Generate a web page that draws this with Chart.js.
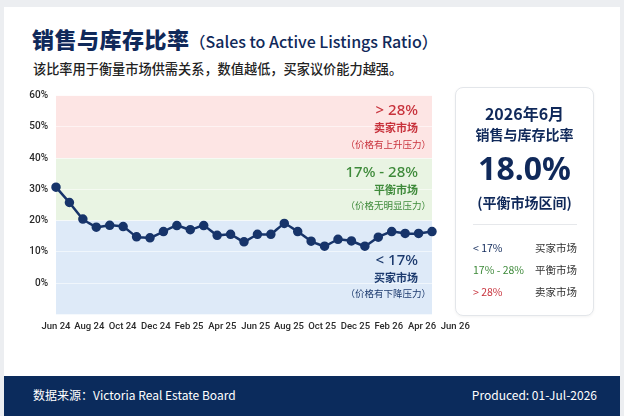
<!DOCTYPE html>
<html>
<head>
<meta charset="utf-8">
<script src="https://cdn.jsdelivr.net/npm/chart.js@4.4.1/dist/chart.umd.min.js"></script>
<style>
  html, body { margin: 0; padding: 0; }
  body {
    width: 624px; height: 416px; overflow: hidden; position: relative;
    background: #eceef1;
    font-family: "Noto Sans", "Noto Sans CJK SC", sans-serif;
  }
  .card { position: absolute; left: 4px; top: 7px; width: 616px; height: 409px; background: #fff; }
  .title { position: absolute; left: 32px; top: 22px; color: #10295a; white-space: nowrap; }
  .title .zh { font-family: "Noto Sans CJK SC", sans-serif; font-size: 22px; font-weight: 900; letter-spacing: 0.5px; }
  .title .en { font-family: "Noto Sans CJK SC", sans-serif; font-size: 16px; font-weight: 500; }
  .sub { position: absolute; left: 33px; top: 59px; font-family: "Noto Sans CJK SC", sans-serif;
         font-size: 13.2px; font-weight: 500; color: #222; white-space: nowrap; }
  #wrap { position: absolute; left: 0; top: 80px; width: 470px; height: 270px; }
  .panel { position: absolute; left: 455px; top: 87px; width: 137px; height: 227px; background: #fff;
           border: 1px solid #e3e6ea; border-radius: 8px; box-shadow: 0 1px 3px rgba(0,0,0,0.05);
           font-family: "Noto Sans CJK SC", sans-serif; color: #10295a; }
  .panel .c { position: absolute; left: 0; width: 100%; text-align: center; white-space: nowrap; }
  .panel .row { position: absolute; left: 17px; width: 104px; font-size: 10.5px; white-space: nowrap; }
  .panel .row span:last-child { position: absolute; right: 0; color: #333; }
  .footer { position: absolute; left: 4px; top: 376px; width: 616px; height: 40px; background: #0b2b5c; color: #fff;
            font-family: "Noto Sans CJK SC", sans-serif; font-size: 12px; }
  .footer div { position: absolute; top: 10px; white-space: nowrap; }
</style>
</head>
<body>
<div class="card"></div>
<div class="title"><span class="zh">销售与库存比率</span><span class="en">（Sales to Active Listings Ratio）</span></div>
<div class="sub">该比率用于衡量市场供需关系，数值越低，买家议价能力越强。</div>
<div id="wrap"><canvas id="ratioChart"></canvas></div>
<div class="panel">
  <div class="c" style="top:13px;font-size:16px;font-weight:700;">2026年6月</div>
  <div class="c" style="top:36px;font-size:14px;font-weight:700;">销售与库存比率</div>
  <div class="c" style="top:58px;font-size:32px;font-weight:700;font-family:'Noto Sans',sans-serif;">18.0%</div>
  <div class="c" style="top:104px;font-size:14px;font-weight:700;">(平衡市场区间)</div>
  <div style="position:absolute;left:17px;width:104px;top:136px;border-top:1px solid #e6e8eb;"></div>
  <div class="row" style="top:152px;"><span style="color:#10295a;">&lt; 17%</span><span>买家市场</span></div>
  <div class="row" style="top:174px;"><span style="color:#3e8a3a;">17% - 28%</span><span>平衡市场</span></div>
  <div class="row" style="top:196px;"><span style="color:#c8323c;">&gt; 28%</span><span>卖家市场</span></div>
</div>
<div class="footer">
  <div style="left:29px;">数据来源：Victoria Real Estate Board</div>
  <div style="right:23px;">Produced: 01-Jul-2026</div>
</div>
<script>
// ratio per month
var ratioValues = [30.7, 25.8, 20.5, 17.9, 18.5, 18.1, 14.8, 14.5, 16.5, 18.4,
                   17.1, 18.4, 15.3, 15.6, 13.2, 15.6, 15.6, 19.1, 16.5, 13.4,
                   11.8, 14.0, 13.5, 11.8, 14.7, 16.5, 15.9, 15.9, 16.5];
var tickLabels = ['Jun 24', 'Aug 24', 'Oct 24', 'Dec 24', 'Feb 25', 'Apr 25', 'Jun 25',
                  'Aug 25', 'Oct 25', 'Dec 25', 'Feb 26', 'Apr 26', 'Jun 26'];
var yTicks = [0, 10, 20, 30, 40, 50, 60];

// background zones
var zoneFrom = [40, 20, -10];
var zoneTo = [60, 40, 20];
var zoneColors = ['#fde5e4', '#e9f4e3', '#deeaf8'];
var zoneText = [
  ['> 28%', '卖家市场', '（价格有上升压力）'],
  ['17% - 28%', '平衡市场', '（价格无明显压力）'],
  ['< 17%', '买家市场', '（价格有下降压力）']
];
var zoneTextColors = ['#c8323c', '#3e8a3a', '#1c3a6e'];

var zonePlugin = {
  id: 'zones',
  beforeDraw: function(chart) {
    var ctx = chart.ctx, a = chart.chartArea, y = chart.scales.y;
    ctx.save();
    for (var i = 0; i < zoneFrom.length; i++) {
      var top = y.getPixelForValue(zoneTo[i]);
      var bot = y.getPixelForValue(zoneFrom[i]);
      ctx.fillStyle = zoneColors[i];
      ctx.fillRect(a.left, top, a.right - a.left, bot - top);
    }
    ctx.restore();
  },
  afterDatasetsDraw: function(chart) {
    var ctx = chart.ctx, a = chart.chartArea, y = chart.scales.y;
    var offs = [[15, 32, 49], [15, 32, 47], [40, 57, 73]];
    ctx.save();
    ctx.textAlign = 'right';
    ctx.textBaseline = 'middle';
    for (var i = 0; i < zoneText.length; i++) {
      var top = y.getPixelForValue(zoneTo[i]);
      ctx.fillStyle = zoneTextColors[i];
      ctx.font = '500 15px "Noto Sans", sans-serif';
      ctx.fillText(zoneText[i][0], a.right - 14, top + offs[i][0]);
      ctx.font = '700 11px "Noto Sans CJK SC", sans-serif';
      ctx.fillText(zoneText[i][1], a.right - 14, top + offs[i][1]);
      ctx.font = '400 9.5px "Noto Sans CJK SC", sans-serif';
      ctx.fillText(zoneText[i][2], a.right - 1, top + offs[i][2]);
    }
    ctx.restore();
  }
};

new Chart(document.getElementById('ratioChart'), {
  type: 'line',
  data: {
    labels: ratioValues.map(function(v, i) { return i; }),
    datasets: [{
      data: ratioValues,
      borderColor: '#17346a',
      backgroundColor: '#17346a',
      borderWidth: 2.5,
      pointRadius: 3.5,
      pointHoverRadius: 3.5,
      tension: 0.1,
      fill: false
    }]
  },
  options: {
    responsive: true,
    maintainAspectRatio: false,
    animation: false,
    layout: { padding: { top: 15.7, right: 38, bottom: 5.7, left: 0 } },
    plugins: { legend: { display: false }, tooltip: { enabled: false } },
    scales: {
      x: { type: 'category', display: false, offset: false },
      xl: {
        type: 'linear', position: 'bottom', min: 0, max: 22.6,
        grid: { display: false, drawTicks: false },
        border: { display: false },
        afterBuildTicks: function(s) {
          s.ticks = tickLabels.map(function(t, i) { return { value: i * 2 }; });
        },
        afterFit: function(s) { s.height = 30; s.paddingLeft = 0; s.paddingRight = 0; },
        ticks: {
          autoSkip: false, maxRotation: 0, padding: 7,
          color: '#2a2a2a', font: { family: 'Roboto, sans-serif', size: 9.5, weight: '500' },
          callback: function(v) { return tickLabels[Math.round(v / 2)]; }
        }
      },
      y: {
        min: -10, max: 60,
        afterBuildTicks: function(s) {
          s.ticks = yTicks.map(function(v) { return { value: v }; });
        },
        afterFit: function(s) { s.width = 56; },
        grid: { color: 'rgba(255,255,255,0.55)', drawTicks: false },
        border: { display: false },
        ticks: {
          padding: 8, color: '#2a2a2a',
          font: { family: 'Roboto, sans-serif', size: 10, weight: '500' },
          callback: function(v) { return v + '%'; }
        }
      }
    }
  },
  plugins: [zonePlugin]
});
</script>
</body>
</html>
